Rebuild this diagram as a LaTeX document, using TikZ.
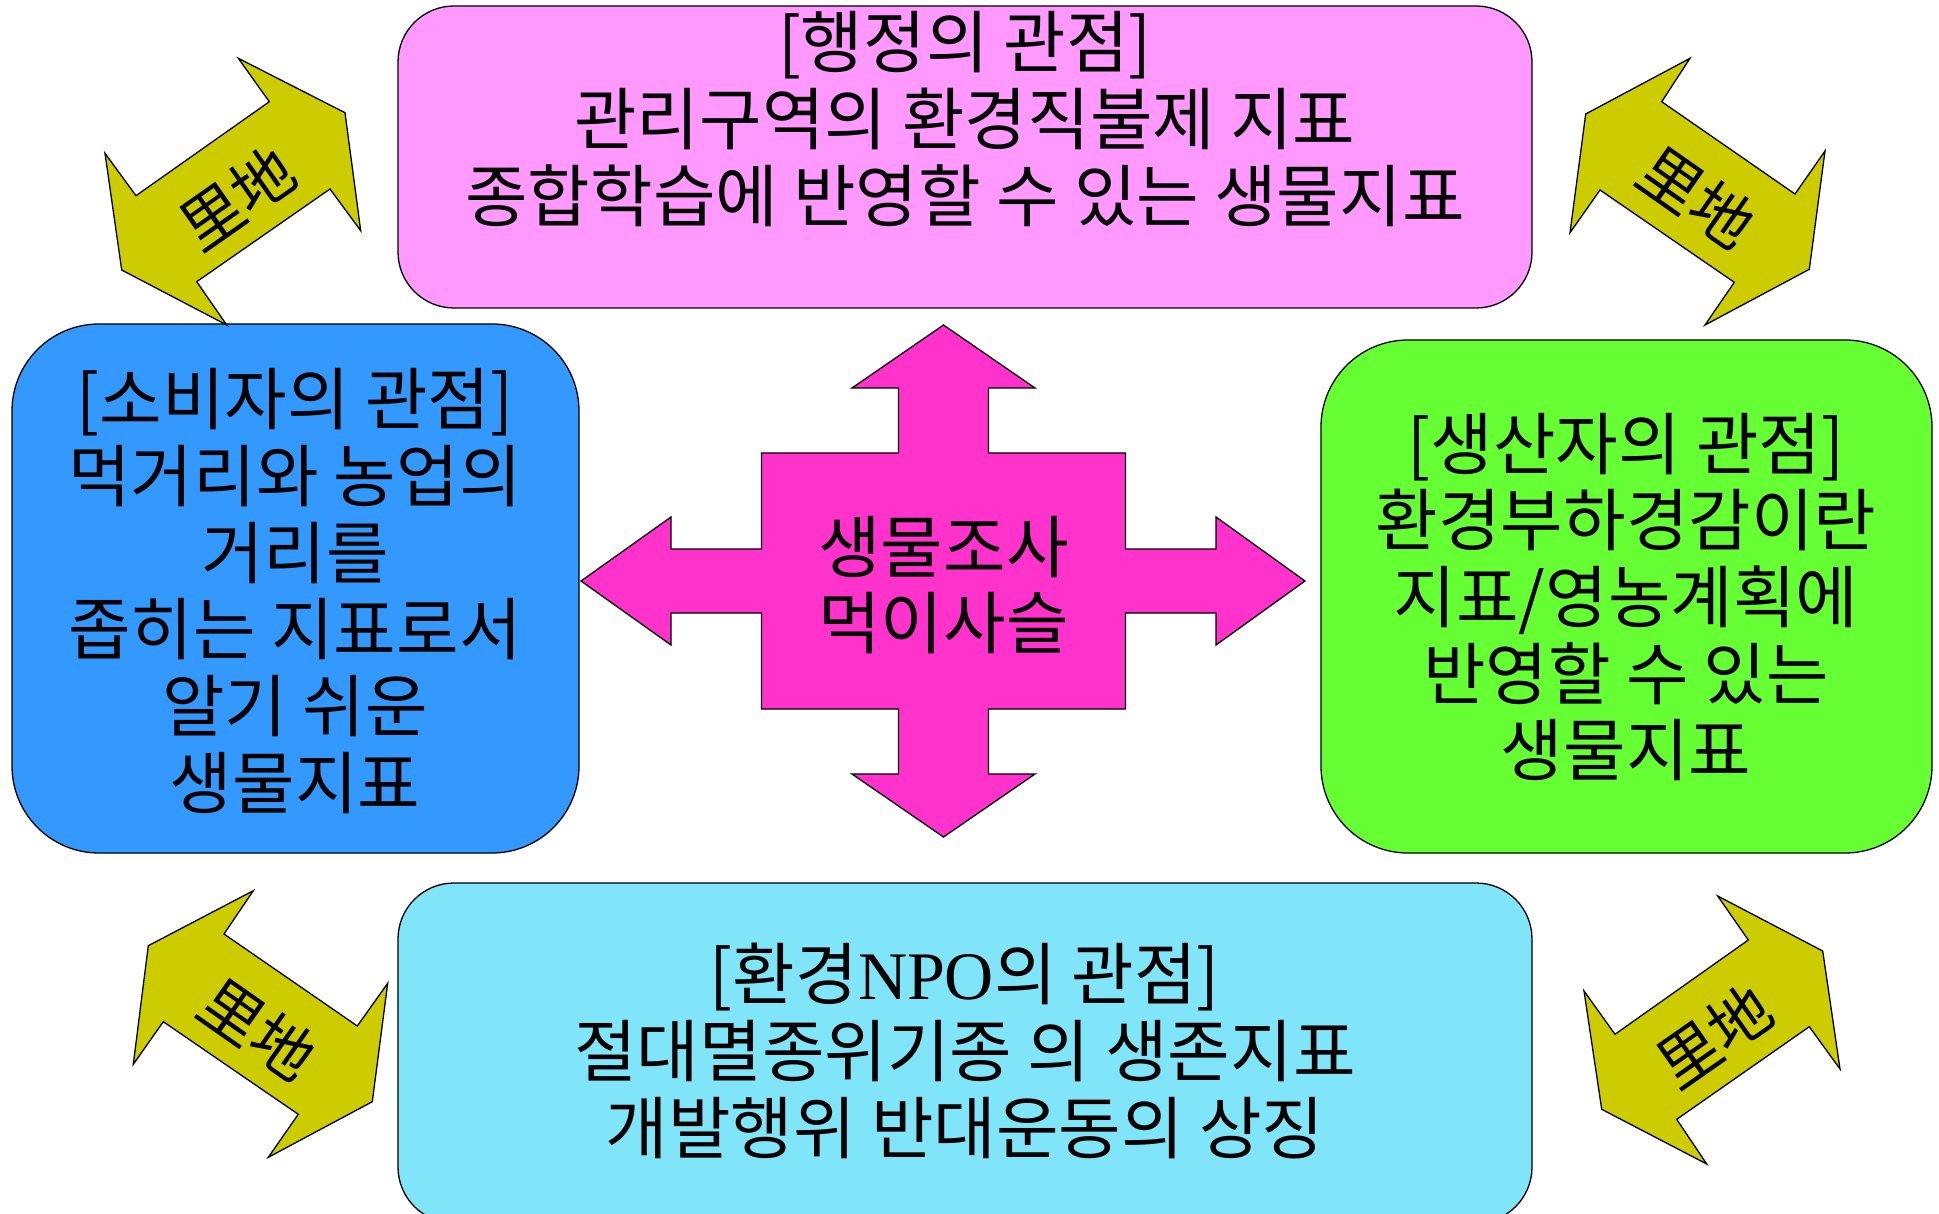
\documentclass[tikz,border=0pt]{standalone}
\usepackage{fontspec}
\newfontfamily\krfont{Noto Sans CJK KR}
\newfontfamily\jpfont{Noto Sans CJK JP}
\newfontfamily\npofont{Liberation Serif}
\definecolor{pinkbox}{RGB}{255,153,255}
\definecolor{bluebox}{RGB}{51,153,255}
\definecolor{greenbox}{RGB}{102,255,51}
\definecolor{cyanbox}{RGB}{128,229,248}
\definecolor{crossc}{RGB}{255,51,204}
\definecolor{olivec}{RGB}{204,204,0}
\begin{document}
\begin{tikzpicture}[x=1pt,y=-1pt,
  boxshape/.style={draw=black, line width=1.3pt, inner sep=0pt, outer sep=0pt},
  boxtext/.style={font=\krfont\fontsize{68}{76.7}\selectfont, align=center, text=black, inner sep=0pt},
  arrowshape/.style={draw=black, line width=1.3pt, line join=miter, fill=olivec},
  arrowtext/.style={font=\jpfont\fontsize{62}{64}\selectfont, text=black, inner sep=0pt}]
\useasboundingbox (0,0) rectangle (1939,1214);
\clip (0,0) rectangle (1939,1214);
\fill[white] (0,0) rectangle (1939,1214);

% boxes
\node[boxshape, fill=pinkbox, rounded corners=56pt, minimum width=1134pt, minimum height=302pt] (topbox) at (965,157) {};
\node[boxshape, fill=bluebox, rounded corners=87pt, minimum width=567pt, minimum height=529pt] (leftbox) at (295.5,588.5) {};
\node[boxshape, fill=greenbox, rounded corners=87pt, minimum width=611pt, minimum height=513pt] (rightbox) at (1626.5,596.5) {};
\node[boxshape, fill=cyanbox, rounded corners=56pt, minimum width=1134pt, minimum height=340pt] (bottombox) at (965,1053) {};

% box texts
\node[boxtext] (toptext) at (965,119) {[행정의 관점]\\관리구역의 환경직불제 지표\\종합학습에 반영할 수 있는 생물지표};
\node[boxtext] (lefttext) at (295,591) {[소비자의 관점]\\먹거리와 농업의\\거리를\\좁히는 지표로서\\알기 쉬운\\생물지표};
\node[boxtext] (righttext) at (1626,597) {[생산자의 관점]\\환경부하경감이란\\지표/영농계획에\\반영할 수 있는\\생물지표};
\node[boxtext] (bottomtext) at (965,1051) {[환경{\npofont NPO}의 관점]\\절대멸종위기종 의 생존지표\\개발행위 반대운동의 상징};

% central cross
\draw[line width=1.3pt, fill=crossc, line join=miter]
  (943.5,325) -- (1035,388) -- (988.5,388) -- (988.5,453) -- (1125.5,453) -- (1125.5,549)
  -- (1216,549) -- (1216,517) -- (1305,581) -- (1216,645) -- (1216,613) -- (1125.5,613)
  -- (1125.5,709) -- (988.5,709) -- (988.5,774) -- (1035,774) -- (943.5,837) -- (852,774)
  -- (898.5,774) -- (898.5,709) -- (761.5,709) -- (761.5,613) -- (671,613) -- (671,645)
  -- (581,581) -- (671,517) -- (671,549) -- (761.5,549) -- (761.5,453) -- (898.5,453)
  -- (898.5,388) -- (852,388) -- cycle;
\node[boxtext] (centertext) at (943.5,585) {생물조사\\먹이사슬};

% corner double arrows
\draw[arrowshape] (238.3,58.3) -- (345,112.7) -- (360.7,230.7) -- (330,189) -- (196.7,281.7)
  -- (226.7,325) -- (121.7,270) -- (105,153.3) -- (136,195.7) -- (269.3,101.7) -- cycle;
\node[arrowtext, rotate=35] (tlabel) at (237,198) {里地};

\draw[arrowshape] (1690,58.3) -- (1661.7,101.7) -- (1795,194) -- (1825,151) -- (1809.3,269.3)
  -- (1705,325) -- (1734.3,282.3) -- (1600,190) -- (1570,232.7) -- (1585.7,114) -- cycle;
\node[arrowtext, rotate=-35] (trlabel) at (1697,197) {里地};

\draw[arrowshape] (253.3,890.7) -- (224,934) -- (357.3,1026) -- (387.7,983.3) -- (372.3,1101.7)
  -- (268.3,1157.3) -- (298.3,1114.3) -- (163.3,1021.7) -- (133.3,1064.3) -- (148.3,945.7) -- cycle;
\node[arrowtext, rotate=-35] (bllabel) at (258,1029) {里地};

\draw[arrowshape] (1717.7,896) -- (1822.7,951) -- (1840,1069) -- (1809.3,1026.7) -- (1676.7,1119.3)
  -- (1706.7,1164) -- (1601.7,1109.3) -- (1584,991) -- (1615,1034.3) -- (1748.3,940) -- cycle;
\node[arrowtext, rotate=35] (brlabel) at (1714,1036) {里地};
\end{tikzpicture}
\end{document}
